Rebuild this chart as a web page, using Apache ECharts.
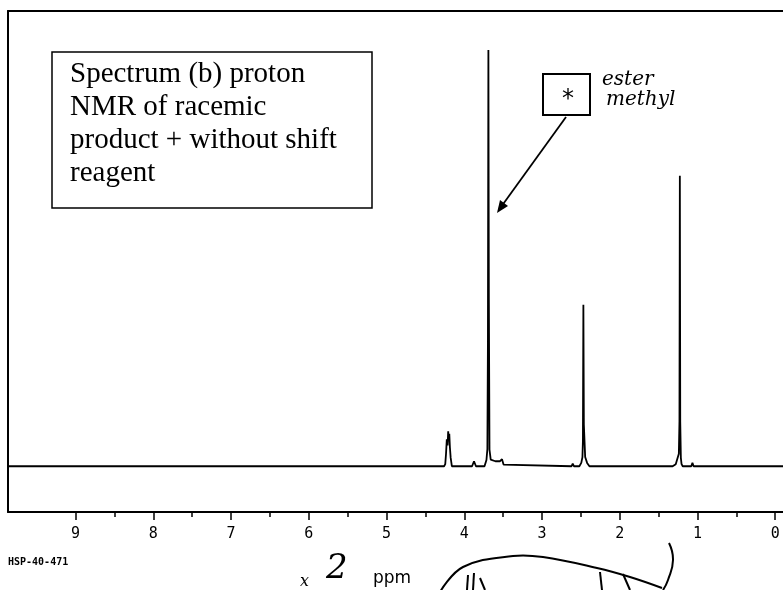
<!DOCTYPE html>
<html>
<head>
    <meta charset="utf-8">
    <script src="https://cdn.jsdelivr.net/npm/echarts@6/dist/echarts.min.js"></script>
    <style type="text/css">
        html, body { margin: 0; padding: 0; background: #fff; }
        #chart { width: 783px; height: 590px; }
    </style>
</head>
<body>
<div id="chart"></div>
<script type="text/javascript">
    // chemical shift (ppm) and intensity (% of ester methyl peak)
    const ppm = [
        9.87, 4.26,
        4.245, 4.235, 4.225, 4.215, 4.207, 4.200, 4.193, 4.185, 4.175, 4.160,
        3.90, 3.875, 3.85,
        3.74, 3.715, 3.703, 3.696, 3.690, 3.684, 3.676, 3.660, 3.600, 3.540, 3.515, 3.505, 3.495, 3.47,
        2.62, 2.605, 2.59, 2.52, 2.495, 2.480, 2.474, 2.468, 2.462, 2.445, 2.42, 2.39,
        1.32, 1.28, 1.255, 1.240, 1.232, 1.227, 1.222, 1.214, 1.205, 1.19, 1.08, 1.065, 1.05,
        -0.1
    ];
    const intensity = [
        0, 0,
        0.5, 3, 6.5, 5, 8.4, 6, 7.8, 4.5, 2, 0,
        0, 1.2, 0,
        0, 1.5, 4.1, 30, 100, 40, 4, 1.6, 1.2, 1.2, 1.7, 1.7, 0.4, 0,
        0, 0.6, 0, 0, 0.8, 2.2, 6, 38.8, 10, 2.2, 0.8, 0,
        0, 0.5, 0.8, 3, 10.8, 69.8, 10.8, 2, 0.5, 0, 0, 0.8, 0,
        0
    ];
    // axis ticks
    const majorTicks = [0, 1, 2, 3, 4, 5, 6, 7, 8, 9];
    const minorTicks = [0.5, 1.5, 2.5, 3.5, 4.5, 5.5, 6.5, 7.5, 8.5];

    const spectrum = ppm.map((p, i) => [p, intensity[i]]);

    const hand = 'italic 20px "DejaVu Serif", serif';
    const frame = { show: true, onZero: false, lineStyle: { color: '#000', width: 2 } };

    const option = {
        animation: false,
        backgroundColor: '#fff',
        grid: { left: 8, right: 0, top: 11, bottom: 78 },
        xAxis: [
            {
                type: 'value', inverse: true, min: -0.1, max: 9.87, position: 'bottom',
                axisLine: frame,
                axisTick: { show: true, length: 8, customValues: majorTicks, lineStyle: { color: '#000', width: 1.5 } },
                axisLabel: {
                    customValues: majorTicks, margin: 15,
                    fontFamily: '"DejaVu Sans Mono", monospace', fontSize: 15, color: '#000'
                },
                splitLine: { show: false }
            },
            {
                type: 'value', inverse: true, min: -0.1, max: 9.87, position: 'bottom',
                axisLine: { show: false, onZero: false },
                axisTick: { show: true, length: 5, customValues: minorTicks, lineStyle: { color: '#000', width: 1.5 } },
                axisLabel: { show: false },
                splitLine: { show: false }
            },
            {
                // top edge of the frame
                type: 'value', inverse: true, min: -0.1, max: 9.87, position: 'top',
                axisLine: frame,
                axisTick: { show: false }, axisLabel: { show: false }, splitLine: { show: false }
            }
        ],
        yAxis: {
            type: 'value', min: -11, max: 109.4, position: 'left',
            axisLine: frame,
            axisTick: { show: false }, axisLabel: { show: false }, splitLine: { show: false }
        },
        series: [{
            type: 'line',
            xAxisIndex: 0,
            data: spectrum,
            showSymbol: false,
            lineStyle: { color: '#000', width: 1.8 }
        }],
        graphic: [
            // caption box
            { type: 'rect', shape: { x: 52, y: 52, width: 320, height: 156 },
              style: { fill: '#fff', stroke: '#000', lineWidth: 1.5 }, z: 10 },
            { type: 'text', x: 70, y: 58, z: 11,
              style: { text: 'Spectrum (b) proton\nNMR of racemic\nproduct + without shift\nreagent',
                       font: '29px "Liberation Serif", serif', lineHeight: 33, fill: '#000' } },
            // star box + arrow
            { type: 'rect', shape: { x: 543, y: 74, width: 47, height: 41 },
              style: { fill: '#fff', stroke: '#000', lineWidth: 2 }, z: 10 },
            { type: 'text', x: 568, y: 100, z: 11,
              style: { text: '*', font: '24px "DejaVu Sans", sans-serif', fill: '#000', align: 'center', verticalAlign: 'middle' } },
            { type: 'line', shape: { x1: 566, y1: 117, x2: 501, y2: 207 },
              style: { stroke: '#000', lineWidth: 1.8 }, z: 10 },
            { type: 'polygon', shape: { points: [[497, 213], [508, 206], [500, 200]] },
              style: { fill: '#000' }, z: 10 },
            { type: 'text', x: 602, y: 70, z: 11, style: { text: 'ester', font: hand, fill: '#000' } },
            { type: 'text', x: 606, y: 90, z: 11, style: { text: 'methyl', font: hand, fill: '#000' } },
            // bottom labels
            { type: 'text', x: 8, y: 557, style: { text: 'HSP-40-471', font: 'bold 10px "DejaVu Sans Mono", monospace', fill: '#000' } },
            { type: 'text', x: 373, y: 570, style: { text: 'ppm', font: '17px "DejaVu Sans", sans-serif', fill: '#000' } },
            { type: 'text', x: 300, y: 574, style: { text: 'x', font: 'italic 16px "DejaVu Serif", serif', fill: '#000' } },
            { type: 'text', x: 326, y: 552, style: { text: '2', font: 'italic 34px "DejaVu Serif", serif', fill: '#000' } },
            // handwritten scribbles
            { type: 'polyline', shape: { points: [[440, 592], [463, 567], [513, 556], [543, 557], [597, 568], [630, 577], [662, 588]], smooth: 0.4 },
              style: { stroke: '#000', lineWidth: 2, fill: null } },
            { type: 'polyline', shape: { points: [[669, 543], [673, 560], [668, 580], [663, 590]], smooth: 0.5 },
              style: { stroke: '#000', lineWidth: 2, fill: null } },
            { type: 'polyline', shape: { points: [[468, 575], [467, 590]] }, style: { stroke: '#000', lineWidth: 2 } },
            { type: 'polyline', shape: { points: [[474, 573], [473, 590]] }, style: { stroke: '#000', lineWidth: 2 } },
            { type: 'polyline', shape: { points: [[480, 578], [485, 590]] }, style: { stroke: '#000', lineWidth: 2 } },
            { type: 'polyline', shape: { points: [[600, 572], [602, 590]] }, style: { stroke: '#000', lineWidth: 2 } },
            { type: 'polyline', shape: { points: [[623, 574], [630, 590]] }, style: { stroke: '#000', lineWidth: 2 } }
        ]
    };

    var myChart = echarts.init(document.getElementById('chart'));
    myChart.setOption(option);
</script>
</body>
</html>
